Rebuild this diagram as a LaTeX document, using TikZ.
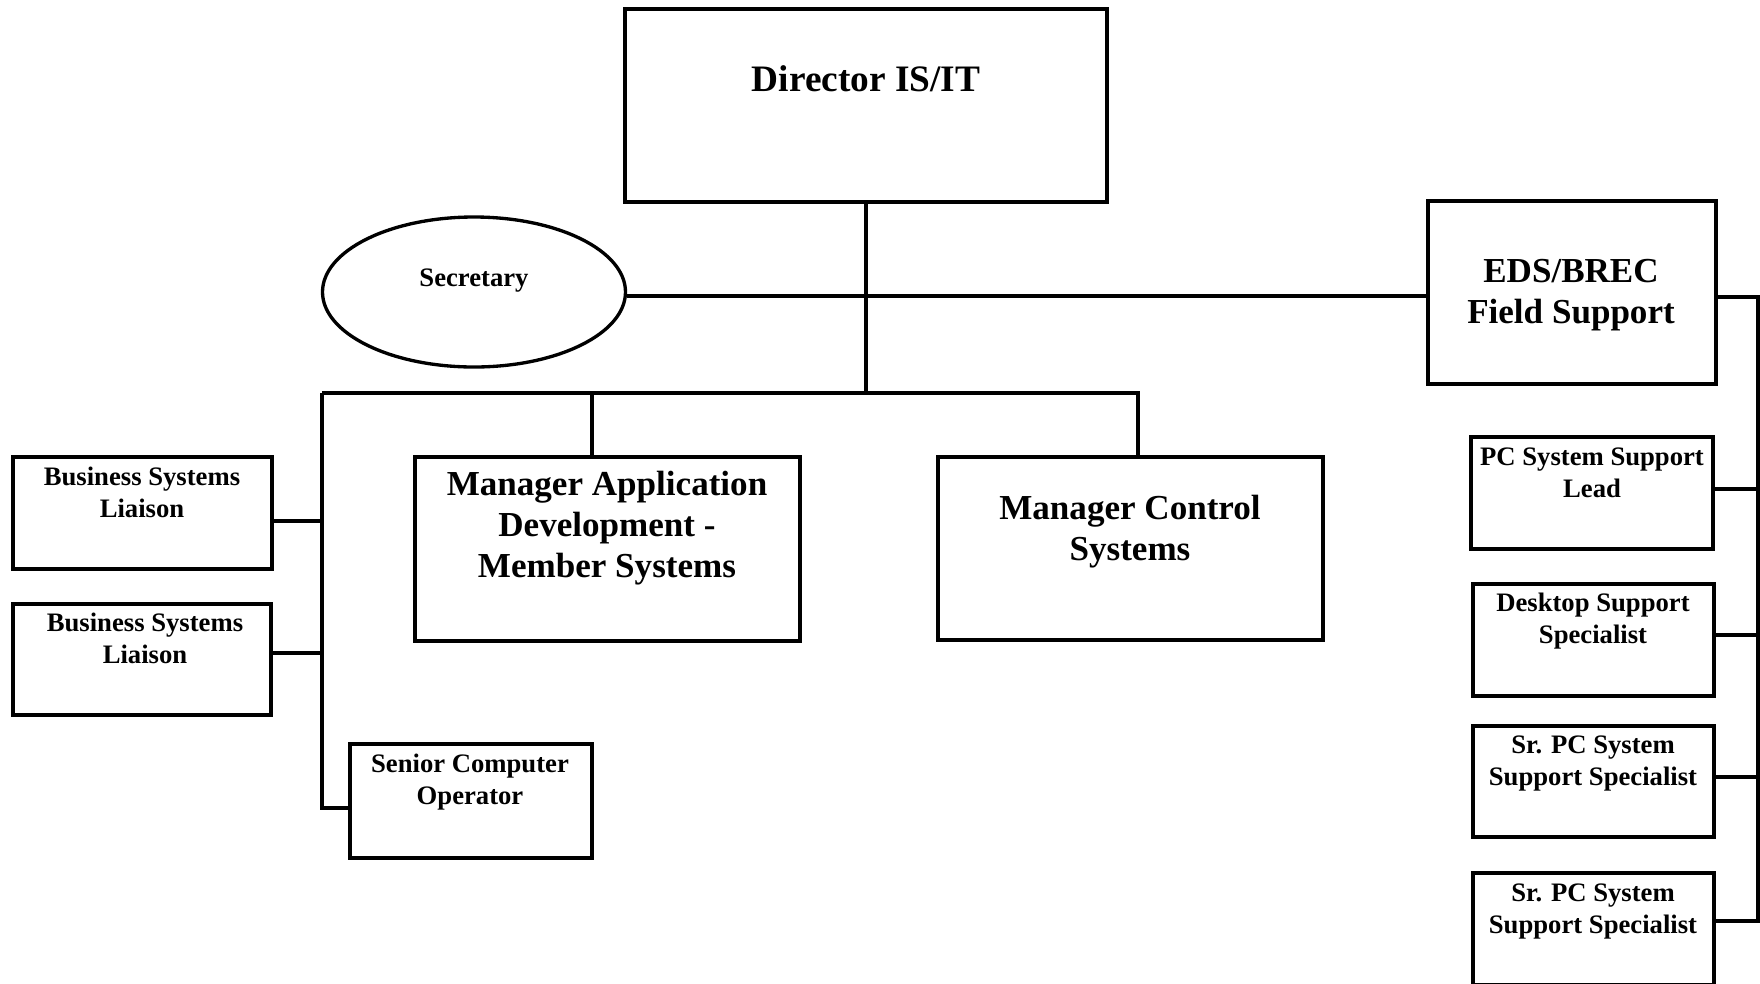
\documentclass[tikz,border=0pt]{standalone}
\usepackage{fontspec}
\setmainfont{Liberation Serif}
\usetikzlibrary{shapes.geometric}
\tikzset{
  box/.style={draw, line width=2.5pt, rectangle, inner sep=0pt},
  oval/.style={draw, line width=2.5pt, ellipse, inner sep=0pt},
  big/.style={inner sep=0pt, align=center, font=\bfseries\fontsize{26.3}{30.8}\selectfont},
  huge/.style={inner sep=0pt, align=center, font=\bfseries\fontsize{28}{32}\selectfont},
  small/.style={inner sep=0pt, align=center, font=\bfseries\fontsize{20}{24}\selectfont},
  wire/.style={line width=2.4pt}
}
\begin{document}
\begin{tikzpicture}[x=0.75pt, y=-0.75pt]
\useasboundingbox (0,0) rectangle (1760,983);
% boxes
\node[box, minimum width=482*0.75pt, minimum height=193*0.75pt] (dir) at (866,105.5) {};
\node[oval, minimum width=303*0.75pt, minimum height=150*0.75pt] (sec) at (474,292) {};
\node[box, minimum width=288*0.75pt, minimum height=183*0.75pt] (eds) at (1572,292.5) {};
\node[box, minimum width=385*0.75pt, minimum height=184*0.75pt] (app) at (607.5,549) {};
\node[box, minimum width=385*0.75pt, minimum height=183*0.75pt] (ctrl) at (1130.5,548.5) {};
\node[box, minimum width=259*0.75pt, minimum height=112*0.75pt] (bsl1) at (142.5,513) {};
\node[box, minimum width=258*0.75pt, minimum height=111*0.75pt] (bsl2) at (142,659.5) {};
\node[box, minimum width=242*0.75pt, minimum height=114*0.75pt] (sco) at (471,801) {};
\node[box, minimum width=242*0.75pt, minimum height=112*0.75pt] (pcl) at (1592,493) {};
\node[box, minimum width=241*0.75pt, minimum height=112*0.75pt] (dsk) at (1593.5,640) {};
\node[box, minimum width=241*0.75pt, minimum height=111*0.75pt] (sr1) at (1593.5,781.5) {};
\node[box, minimum width=241*0.75pt, minimum height=112*0.75pt] (sr2) at (1593.5,929) {};
% texts
\node[huge] (dirT) at (866,79) {Director IS/IT};
\node[small] (secT) at (474,280.5) {Secretary};
\node[big] (edsT) at (1571,295) {EDS/BREC\\Field Support};
\node[big] (appT) at (607,528) {Manager Application\\Development -\\Member Systems};
\node[big] (ctrlT) at (1130,532) {Manager Control\\Systems};
\node[small] (bsl1T) at (142,492) {Business Systems\\Liaison};
\node[small] (bsl2T) at (145,638) {Business Systems\\Liaison};
\node[small] (scoT) at (470,782.5) {Senior Computer\\Operator};
\node[small] (pclT) at (1592,473) {PC System Support\\Lead};
\node[small] (dskT) at (1593,621.5) {Desktop Support\\Specialist};
\node[small] (sr1T) at (1593,763.5) {Sr. PC System\\Support Specialist};
\node[small] (sr2T) at (1593,911.5) {Sr. PC System\\Support Specialist};
% connector coordinates
\coordinate (hl) at (0,296);
\coordinate (busL) at (322,393);
\coordinate (busR) at (1138,393);
\coordinate (rt) at (1758,297);
\coordinate (rb) at (1758,921);
\coordinate (scoY) at (0,808);
% connectors
\draw[wire] (dir.south) -- (dir.south |- busL);
\draw[wire] (sec.east |- hl) -- (eds.west |- hl);
\draw[wire] (busL) -- (busR) -- (ctrl.north -| busR);
\draw[wire] (app.north -| 592,0) -- (592,393);
\draw[wire] (busL) -- (busL |- scoY) -- (sco.west |- scoY);
\draw[wire] (bsl1.east |- 0,521) -- (busL |- 0,521);
\draw[wire] (bsl2.east |- 0,653) -- (busL |- 0,653);
\draw[wire] (eds.east |- rt) -- (rt) -- (rb) -- (sr2.east |- rb);
\draw[wire] (pcl.east |- 0,489) -- (rt |- 0,489);
\draw[wire] (dsk.east |- 0,635) -- (rt |- 0,635);
\draw[wire] (sr1.east |- 0,777) -- (rt |- 0,777);
\end{tikzpicture}
\end{document}
